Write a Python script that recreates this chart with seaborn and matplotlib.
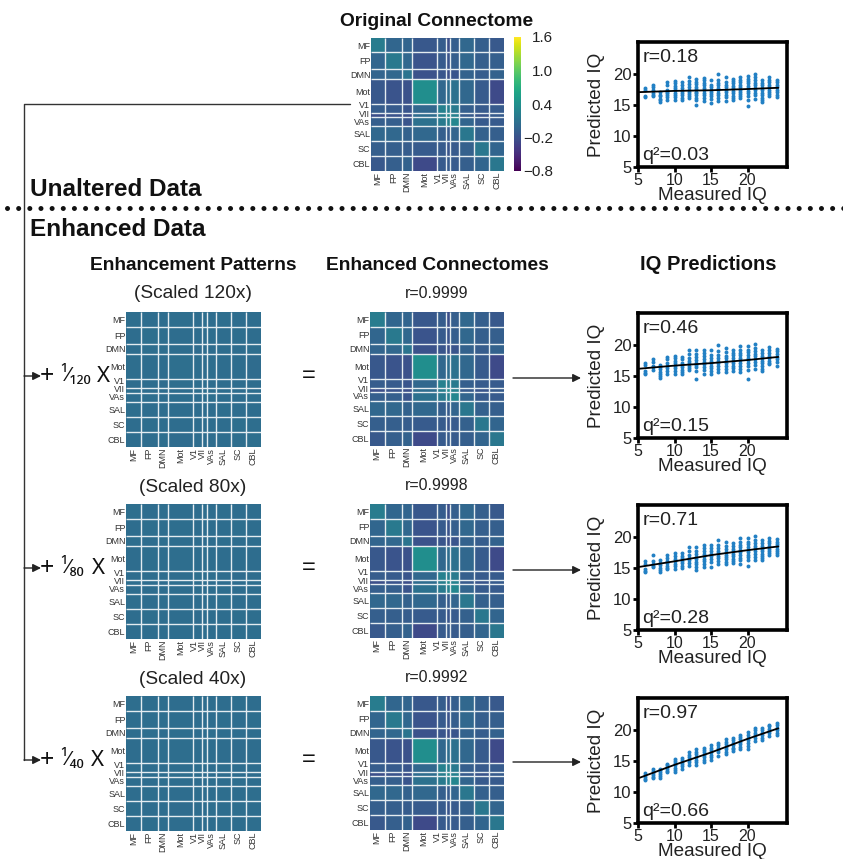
import numpy as np
import pandas as pd
import seaborn as sns
import matplotlib.pyplot as plt

sns.set_theme(style="white")
plt.rcParams['font.family'] = ['Liberation Sans', 'DejaVu Sans']

W, H = 843, 859

# networks and their node counts
networks = ['MF', 'FP', 'DMN', 'Mot', 'V1', 'VII', 'VAs', 'SAL', 'SC', 'CBL']
network_sizes = [29, 34, 20, 50, 18, 9, 18, 30, 30, 30]

# mean edge value per network pair
connectome_blocks = [
    [0.20, -0.02, -0.03, -0.15, -0.10, -0.22, -0.08, 0.00, -0.08, -0.14],
    [-0.02, 0.17, 0.00, -0.18, -0.12, -0.18, -0.08, 0.00, -0.08, -0.08],
    [-0.03, 0.00, 0.12, -0.20, -0.17, -0.22, -0.17, -0.05, -0.10, -0.05],
    [-0.15, -0.18, -0.20, 0.38, 0.00, 0.05, 0.10, 0.00, -0.12, -0.26],
    [-0.10, -0.12, -0.17, 0.00, 0.25, 0.22, 0.18, -0.08, -0.12, -0.12],
    [-0.22, -0.18, -0.22, 0.05, 0.22, 0.35, 0.25, -0.12, -0.17, -0.12],
    [-0.08, -0.08, -0.17, 0.10, 0.18, 0.25, 0.30, -0.03, -0.12, -0.12],
    [0.00, 0.00, -0.05, 0.00, -0.08, -0.12, -0.03, 0.15, -0.06, -0.08],
    [-0.08, -0.08, -0.10, -0.12, -0.12, -0.17, -0.12, -0.06, 0.15, -0.03],
    [-0.14, -0.08, -0.05, -0.26, -0.12, -0.12, -0.12, -0.08, -0.03, 0.15],
]

pattern_120 = [
    [0.06, 0.05, 0.05, 0.06, 0.05, 0.06, 0.05, 0.06, 0.05, 0.05],
    [0.05, 0.07, 0.06, 0.05, 0.05, 0.05, 0.06, 0.05, 0.06, 0.05],
    [0.05, 0.06, 0.06, 0.05, 0.04, 0.05, 0.05, 0.05, 0.05, 0.06],
    [0.06, 0.05, 0.05, 0.07, 0.06, 0.05, 0.06, 0.05, 0.05, 0.04],
    [0.05, 0.05, 0.04, 0.06, 0.06, 0.06, 0.05, 0.05, 0.05, 0.05],
    [0.06, 0.05, 0.05, 0.05, 0.06, 0.07, 0.06, 0.05, 0.05, 0.05],
    [0.05, 0.06, 0.05, 0.06, 0.05, 0.06, 0.07, 0.05, 0.05, 0.05],
    [0.06, 0.05, 0.05, 0.05, 0.05, 0.05, 0.05, 0.06, 0.05, 0.05],
    [0.05, 0.06, 0.05, 0.05, 0.05, 0.05, 0.05, 0.05, 0.07, 0.06],
    [0.05, 0.05, 0.06, 0.04, 0.05, 0.05, 0.05, 0.05, 0.06, 0.07],
]
pattern_80 = [
    [0.07, 0.05, 0.06, 0.05, 0.05, 0.06, 0.05, 0.06, 0.05, 0.05],
    [0.05, 0.06, 0.05, 0.06, 0.05, 0.05, 0.05, 0.05, 0.06, 0.05],
    [0.06, 0.05, 0.06, 0.05, 0.05, 0.04, 0.05, 0.06, 0.05, 0.05],
    [0.05, 0.06, 0.05, 0.06, 0.05, 0.06, 0.05, 0.05, 0.05, 0.05],
    [0.05, 0.05, 0.05, 0.05, 0.07, 0.06, 0.06, 0.05, 0.04, 0.05],
    [0.06, 0.05, 0.04, 0.06, 0.06, 0.06, 0.05, 0.05, 0.05, 0.06],
    [0.05, 0.05, 0.05, 0.05, 0.06, 0.05, 0.06, 0.06, 0.05, 0.05],
    [0.06, 0.05, 0.06, 0.05, 0.05, 0.05, 0.06, 0.07, 0.05, 0.05],
    [0.05, 0.06, 0.05, 0.05, 0.04, 0.05, 0.05, 0.05, 0.06, 0.06],
    [0.05, 0.05, 0.05, 0.05, 0.05, 0.06, 0.05, 0.05, 0.06, 0.06],
]
pattern_40 = [
    [0.06, 0.05, 0.05, 0.05, 0.06, 0.05, 0.05, 0.05, 0.06, 0.05],
    [0.05, 0.06, 0.06, 0.05, 0.05, 0.05, 0.05, 0.06, 0.05, 0.06],
    [0.05, 0.06, 0.05, 0.06, 0.05, 0.05, 0.06, 0.05, 0.05, 0.05],
    [0.05, 0.05, 0.06, 0.06, 0.05, 0.06, 0.05, 0.05, 0.04, 0.05],
    [0.06, 0.05, 0.05, 0.05, 0.06, 0.06, 0.05, 0.06, 0.05, 0.05],
    [0.05, 0.05, 0.05, 0.06, 0.06, 0.05, 0.05, 0.05, 0.05, 0.05],
    [0.05, 0.05, 0.06, 0.05, 0.05, 0.05, 0.06, 0.05, 0.06, 0.05],
    [0.05, 0.06, 0.05, 0.05, 0.06, 0.05, 0.05, 0.06, 0.05, 0.06],
    [0.06, 0.05, 0.05, 0.04, 0.05, 0.05, 0.06, 0.05, 0.06, 0.05],
    [0.05, 0.06, 0.05, 0.05, 0.05, 0.05, 0.05, 0.06, 0.05, 0.06],
]

cbar_ticks = [-0.8, -0.2, 0.4, 1.0, 1.6]
cbar_labels = ['\u22120.8', '\u22120.2', '0.4', '1.0', '1.6']
axis_ticks = [5, 10, 15, 20]

# measured IQ values, one column of predicted scores per value
measured_iq = [6, 7, 8, 9, 10, 11, 12, 13, 14, 15, 16, 17, 18, 19, 20, 21, 22, 23, 24]

pred_original = [
    [17.8, 17.4, 16.5, 16.3],
    [18.3, 17.9, 17.4, 17.0, 16.7, 16.5],
    [17.1, 16.7, 16.4, 16.0, 15.8, 15.5],
    [18.7, 18.3, 17.5, 17.2, 16.9, 16.6, 16.3, 15.9],
    [18.9, 18.5, 18.1, 17.7, 17.4, 17.0, 16.7, 16.3, 15.9],
    [18.7, 18.2, 17.7, 17.3, 17.0, 16.6, 16.2, 15.8],
    [19.5, 18.9, 18.4, 17.9, 17.5, 17.1, 16.8, 16.5, 16.2],
    [19.3, 18.8, 18.4, 18.0, 17.6, 17.2, 16.9, 16.6, 16.2, 15.9, 15.0],
    [19.4, 19.0, 18.6, 18.2, 17.8, 17.4, 17.0, 16.6, 16.2, 15.6],
    [19.1, 18.3, 17.9, 17.5, 17.1, 16.8, 16.4, 16.0, 15.4],
    [20.1, 19.1, 18.6, 18.2, 17.8, 17.4, 17.0, 16.6, 16.2, 15.6],
    [19.6, 18.7, 18.3, 17.9, 17.5, 17.1, 16.7, 16.3, 15.6],
    [19.3, 18.9, 18.5, 18.1, 17.7, 17.3, 16.9, 16.5, 16.2, 15.9],
    [19.5, 19.1, 18.7, 18.3, 17.9, 17.5, 17.1, 16.8, 16.4, 16.1],
    [19.7, 19.3, 18.9, 18.5, 18.1, 17.7, 17.3, 16.9, 16.5, 15.9, 14.9],
    [20.0, 19.5, 19.0, 18.6, 18.2, 17.8, 17.4, 17.0, 16.6, 16.0],
    [19.0, 18.6, 18.2, 17.8, 17.4, 17.0, 16.6, 16.2, 15.9, 15.5],
    [19.6, 19.1, 18.7, 18.3, 17.9, 17.5, 17.1, 16.8, 16.5],
    [19.1, 18.7, 18.3, 17.9, 17.5, 17.1, 16.7, 16.3],
]

pred_120 = [
    [17.2, 16.8, 15.8, 15.5, 15.3],
    [17.8, 17.3, 16.7, 16.4, 16.0],
    [16.8, 16.4, 16.1, 15.7, 15.3, 15.0, 14.7],
    [18.1, 17.7, 17.1, 16.7, 16.3, 15.9, 15.4],
    [18.3, 17.9, 17.5, 17.1, 16.7, 16.3, 15.9, 15.4],
    [18.1, 17.7, 17.2, 16.8, 16.4, 16.0, 15.6, 15.3],
    [19.2, 18.6, 17.9, 17.5, 17.1, 16.7, 16.3, 16.0],
    [19.2, 18.6, 18.1, 17.6, 17.2, 16.8, 16.4, 15.8, 14.6],
    [19.2, 18.8, 18.3, 17.7, 17.3, 16.9, 16.5, 16.0, 15.4],
    [19.2, 18.4, 17.9, 17.5, 17.1, 16.7, 16.3, 15.8, 15.3],
    [20.1, 19.0, 18.4, 17.9, 17.5, 17.1, 16.7, 16.2, 15.7],
    [19.6, 18.9, 18.3, 17.9, 17.5, 17.1, 16.6, 16.1, 15.6],
    [19.2, 18.8, 18.4, 17.9, 17.5, 17.1, 16.7, 16.3, 15.8],
    [19.8, 19.3, 18.8, 18.4, 18.0, 17.6, 17.1, 16.6, 16.1, 15.6],
    [19.8, 19.3, 18.9, 18.4, 18.0, 17.6, 17.2, 16.7, 16.0, 14.6],
    [20.2, 19.6, 19.1, 18.6, 18.2, 17.8, 17.3, 16.8, 16.2],
    [19.2, 18.8, 18.3, 17.9, 17.5, 17.1, 16.7, 16.2, 15.8],
    [19.7, 19.2, 18.8, 18.3, 17.9, 17.5, 17.1, 16.9],
    [19.4, 19.0, 18.5, 18.1, 17.7, 17.3, 16.7],
]

pred_80 = [
    [16.1, 15.7, 14.9, 14.6, 14.3],
    [17.1, 16.1, 15.7, 15.4, 15.2],
    [16.3, 15.9, 15.5, 15.1, 14.7, 14.4],
    [17.2, 16.6, 16.2, 15.8, 15.4, 15.1, 14.8],
    [17.4, 16.9, 16.5, 16.1, 15.7, 15.3, 14.9],
    [17.5, 17.0, 16.6, 16.2, 15.8, 15.4, 15.0],
    [18.4, 17.8, 17.1, 16.7, 16.3, 15.9, 15.4],
    [18.4, 17.8, 17.3, 16.8, 16.4, 16.0, 15.6, 15.2, 14.7],
    [18.8, 18.3, 17.8, 17.3, 16.9, 16.5, 16.1, 15.7, 15.2],
    [18.8, 18.3, 17.7, 17.3, 16.9, 16.5, 16.0, 15.2],
    [19.5, 18.7, 18.2, 17.8, 17.4, 17.0, 16.6, 16.1, 15.6],
    [19.2, 18.6, 18.1, 17.6, 17.2, 16.8, 16.4, 16.0, 15.6],
    [19.0, 18.6, 18.1, 17.7, 17.3, 16.9, 16.5, 16.2, 15.9],
    [19.8, 19.3, 18.8, 18.4, 18.0, 17.6, 17.2, 16.7, 16.3, 15.7],
    [19.8, 19.3, 18.9, 18.4, 18.0, 17.6, 17.2, 16.8, 16.3, 15.3],
    [20.2, 19.6, 19.1, 18.6, 18.2, 17.8, 17.3, 16.8, 16.3],
    [19.5, 19.0, 18.6, 18.1, 17.7, 17.3, 16.9, 16.6, 16.3],
    [19.9, 19.4, 19.0, 18.5, 18.1, 17.7, 17.4, 17.1],
    [19.7, 19.3, 18.9, 18.5, 18.1, 17.7, 17.4, 17.1],
]

pred_40 = [
    [13.0, 12.7, 12.4, 12.1, 11.9],
    [13.7, 13.4, 13.1, 12.8, 12.5, 12.3],
    [13.8, 13.5, 13.2, 12.9, 12.6, 12.3],
    [14.6, 14.3, 14.0, 13.7, 13.4, 13.2],
    [15.4, 15.0, 14.7, 14.3, 13.9, 13.5, 13.2],
    [15.5, 15.2, 14.9, 14.5, 14.2, 13.8],
    [16.4, 16.0, 15.6, 15.2, 14.8, 14.4],
    [16.9, 16.5, 16.1, 15.6, 15.2, 14.8, 14.4],
    [17.2, 16.8, 16.4, 16.0, 15.6, 15.2, 14.9],
    [17.6, 17.2, 16.8, 16.4, 16.0, 15.6, 15.2],
    [18.0, 17.6, 17.2, 16.8, 16.4, 15.9],
    [18.5, 18.1, 17.7, 17.3, 16.9, 16.5, 16.2],
    [18.8, 18.4, 18.0, 17.6, 17.2, 16.9, 16.6],
    [19.3, 18.9, 18.5, 18.1, 17.7, 17.3, 16.9],
    [19.7, 19.3, 18.8, 18.4, 18.0, 17.5, 17.0],
    [20.4, 20.0, 19.6, 19.2, 18.8, 18.2],
    [20.3, 20.0, 19.6, 19.2, 18.8, 18.4],
    [20.9, 20.6, 20.2, 19.8, 19.5, 19.1],
    [21.2, 20.8, 20.4, 20.0, 19.6, 19.2],
]

# fitted lines
fit_x = [5.2, 10, 15, 20, 24.2]
fit_original = [17.1, 17.3, 17.4, 17.6, 17.8]
fit_120 = [16.2, 16.7, 17.1, 17.6, 18.1]
fit_80 = [15.2, 16.1, 17.1, 17.9, 18.5]
fit_40 = [12.3, 14.4, 16.4, 18.6, 20.3]

r_labels = ['r=0.18', 'r=0.46', 'r=0.71', 'r=0.97']
q_labels = ['q\u00b2=0.03', 'q\u00b2=0.15', 'q\u00b2=0.28', 'q\u00b2=0.66']
enhanced_labels = ['r=0.9999', 'r=0.9998', 'r=0.9992']
scaled_labels = ['(Scaled 120x)', '(Scaled 80x)', '(Scaled 40x)']
fractions = ['\u00b9\u2044\u2081\u2082\u2080', '\u00b9\u2044\u2088\u2080', '\u00b9\u2044\u2084\u2080']


def axes_px(fig, left, top, width, height):
    """Add axes from pixel coordinates measured from the top left."""
    return fig.add_axes([left / W, 1 - (top + height) / H, width / W, height / H])


def draw_matrix(fig, blocks, left, top, size, cax=None):
    """Draw a network block matrix as a seaborn heatmap."""
    ax = axes_px(fig, left, top, size, size)
    values = np.repeat(np.repeat(np.array(blocks), network_sizes, axis=0), network_sizes, axis=1)
    sns.heatmap(values, cmap='viridis', vmin=-0.8, vmax=1.6, ax=ax,
                cbar=cax is not None, cbar_ax=cax,
                cbar_kws={'ticks': cbar_ticks} if cax is not None else None,
                xticklabels=False, yticklabels=False, rasterized=True)

    edges = np.cumsum(network_sizes)
    ax.hlines(edges[:-1], 0, edges[-1], color='#e4ecf0', lw=1.0)
    ax.vlines(edges[:-1], 0, edges[-1], color='#e4ecf0', lw=1.0)

    # the crowded visual labels sit a little off their block centres
    centers = edges - np.array(network_sizes) / 2
    ax.set_xticks(centers + np.array([0, 0, 0, 0, -7, -3, 0, 0, 0, 0]))
    ax.set_xticklabels(networks, rotation=90, fontsize=6.5, color='#333333')
    ax.set_yticks(centers + np.array([0, 0, 0, 0, -7, -3, -1, 0, 0, 0]))
    ax.set_yticklabels(networks, rotation=0, fontsize=6.5, color='#333333')
    ax.tick_params(axis='both', length=0, pad=0.5)
    return ax


def draw_scatter(fig, columns, fit, r_label, q_label, top):
    """Draw one measured vs predicted IQ panel."""
    ax = axes_px(fig, 638, top, 149, 125)
    df = pd.DataFrame({
        'measured': [x for x, col in zip(measured_iq, columns) for _ in col],
        'predicted': [y for col in columns for y in col],
    })
    sns.scatterplot(data=df, x='measured', y='predicted', color='#2280c4', s=8,
                    linewidth=0, ax=ax, zorder=2)
    sns.lineplot(x=fit_x, y=fit, color='black', lw=1.3, ax=ax, zorder=3, errorbar=None)

    ax.set_xlim(5, 25.4)
    ax.set_ylim(5, 25.2)
    ax.set_xticks(axis_ticks)
    ax.set_yticks(axis_ticks)
    ax.tick_params(axis='both', direction='out', length=3.5, width=2, color='black',
                   labelcolor='#222222', bottom=True, left=True)
    ax.tick_params(axis='x', pad=0.5, labelsize=11.5)
    ax.tick_params(axis='y', pad=1, labelsize=12)
    ax.set_xlabel('Measured IQ', fontsize=13.6, labelpad=-0.5, color='#222222')
    ax.set_ylabel('Predicted IQ', fontsize=13.6, labelpad=6, color='#222222')
    for spine in ax.spines.values():
        spine.set_linewidth(2.6)
        spine.set_color('black')
    ax.text(0.03, 0.875, r_label, transform=ax.transAxes, fontsize=14, va='center', color='#222222')
    ax.text(0.03, 0.095, q_label, transform=ax.transAxes, fontsize=14, va='center', color='#222222')
    return ax


def draw_annotations(page):
    """Draw titles, connector lines, arrows and the dotted separator."""
    page.text(437, 21, 'Original Connectome', fontsize=13.8, fontweight='bold', ha='center', va='center', color='#111111')
    page.text(30, 189, 'Unaltered Data', fontsize=17.5, fontweight='bold', va='center', color='#111111')
    page.text(30, 229, 'Enhanced Data', fontsize=17.5, fontweight='bold', va='center', color='#111111')
    page.text(193, 265, 'Enhancement Patterns', fontsize=13.8, fontweight='bold', ha='center', va='center', color='#111111')
    page.text(437, 265, 'Enhanced Connectomes', fontsize=13.8, fontweight='bold', ha='center', va='center', color='#111111')
    page.text(708, 265, 'IQ Predictions', fontsize=14.5, fontweight='bold', ha='center', va='center', color='#111111')

    page.plot([7, 850], [208, 208], color='#111111', lw=3.6,
              linestyle=(0, (0.01, 2.22)), dash_capstyle='round')
    page.plot([350, 24, 24], [104, 104, 760], color='#333333', lw=1.0)

    row_y = [376, 568, 760]
    x_pos = [103, 98, 97]
    for i, y in enumerate(row_y):
        page.annotate('', xy=(41, y), xytext=(24, y),
                      arrowprops=dict(arrowstyle='-|>', color='#222222', lw=1.0, shrinkA=0, shrinkB=0))
        page.text(47, y, '+', fontsize=18, ha='center', va='center', family='Noto Sans', color='#111111')
        page.text(60, y, fractions[i], fontsize=14.5, ha='left', va='center', family='Noto Sans', color='#111111')
        page.text(x_pos[i], y, 'X', fontsize=16, ha='center', va='center', family='Noto Sans', color='#111111')
        page.text(309, y, '=', fontsize=17, ha='center', va='center', color='#111111')
        page.annotate('', xy=(581, y + 2), xytext=(513, y + 2),
                      arrowprops=dict(arrowstyle='-|>', color='#222222', lw=1.0, shrinkA=0, shrinkB=0))

    scaled_y = [293, 487, 680]
    enhanced_y = [293, 485, 678]
    for i in range(3):
        page.text(193, scaled_y[i], scaled_labels[i], fontsize=13.8, ha='center', va='center', color='#222222')
        page.text(437, enhanced_y[i], enhanced_labels[i], fontsize=11.5, ha='center', va='center', color='#222222')


def main():
    fig = plt.figure(figsize=(W / 100, H / 100), dpi=100)
    page = fig.add_axes([0, 0, 1, 1])
    page.set_xlim(0, W)
    page.set_ylim(H, 0)
    page.axis('off')
    draw_annotations(page)

    # original connectome and its colorbar
    cax = axes_px(fig, 514, 37, 7, 134)
    draw_matrix(fig, connectome_blocks, 371, 38, 133, cax=cax)
    cax.tick_params(length=0, labelsize=11, pad=23, labelcolor='#222222')
    cax.set_yticklabels(cbar_labels, ha='right')

    # three enhancement rows
    patterns = [pattern_120, pattern_80, pattern_40]
    matrix_tops = [312, 504, 696]
    for pattern, top in zip(patterns, matrix_tops):
        draw_matrix(fig, pattern, 126, top, 135)
        draw_matrix(fig, connectome_blocks, 370, top, 134)

    columns = [pred_original, pred_120, pred_80, pred_40]
    fits = [fit_original, fit_120, fit_80, fit_40]
    tops = [42, 313, 505, 698]
    for col, fit, r_label, q_label, top in zip(columns, fits, r_labels, q_labels, tops):
        draw_scatter(fig, col, fit, r_label, q_label, top)

    fig.savefig('out.png', dpi=100)
    plt.close(fig)


if __name__ == "__main__":
    main()
